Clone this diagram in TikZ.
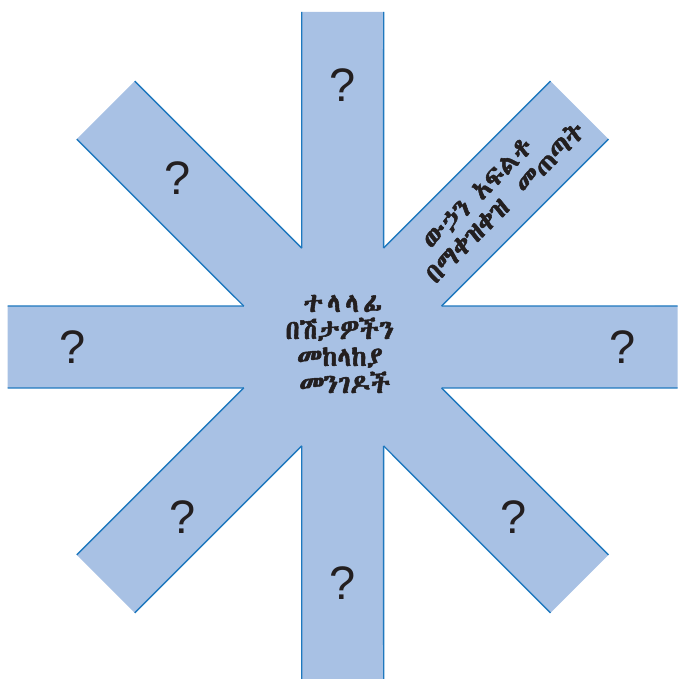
\documentclass[tikz,border=0pt]{standalone}
\usepackage{fontspec}
\setmainfont{Liberation Sans}
\newfontfamily\ethfont[FakeBold=2]{Abyssinica SIL}
\usetikzlibrary{calc}
\definecolor{armfill}{RGB}{168,193,228}
\definecolor{armline}{RGB}{30,120,190}
\definecolor{ink}{RGB}{35,31,32}
\tikzset{
  qmark/.style={font=\fontsize{47}{47}\selectfont, text=ink, inner sep=0pt},
  ethtext/.style={font=\ethfont\fontsize{27}{27}\selectfont, text=ink, inner sep=0pt},
  edge/.style={draw=armline, line width=1.4pt}
}
\begin{document}
\begin{tikzpicture}[x=1pt,y=1pt]
\useasboundingbox (-342.7,-332) rectangle (335.3,347);
\def\L{335}\def\W{41}\def\R{107.1}
\fill[armfill] (-22.5:\R) \foreach \a in {0,45,...,315} { -- ($(\a:\L)+(\a-90:\W)$) -- ($(\a:\L)+(\a+90:\W)$) -- (\a+22.5:\R) } -- cycle;
\foreach \a in {0,45,...,315} {
  \draw[edge] (\a-22.5:\R) -- ($(\a:\L)+(\a-90:\W)$);
  \draw[edge] ($(\a:\L)+(\a+90:\W)$) -- (\a+22.5:\R);
}
\node[qmark] (qn) at (0,262.4) {?};
\node[qmark] (qnw) at (-164.8,169) {?};
\node[qmark] (qw) at (-269.8,0) {?};
\node[qmark] (qe) at (280,0) {?};
\node[qmark] (qsw) at (-159.7,-170) {?};
\node[qmark] (qs) at (0,-236.5) {?};
\node[qmark] (qse) at (171.3,-170) {?};
\node[ethtext, align=center] (centre) at (-3,3) {\hspace*{6pt}{\addfontfeature{LetterSpace=15}ተላላፊ}\\በሽታዎችን\\መከላከያ\\\hspace*{10pt}መንገዶች};
\node[ethtext, rotate=45] (ne1) at (135,153.2) {ውኃን አፍልቶ};
\node[ethtext, rotate=45] (ne2) at (161.8,145.3) {በማቀዝቀዝ\hspace{20pt}መጠጣት};
\end{tikzpicture}
\end{document}
